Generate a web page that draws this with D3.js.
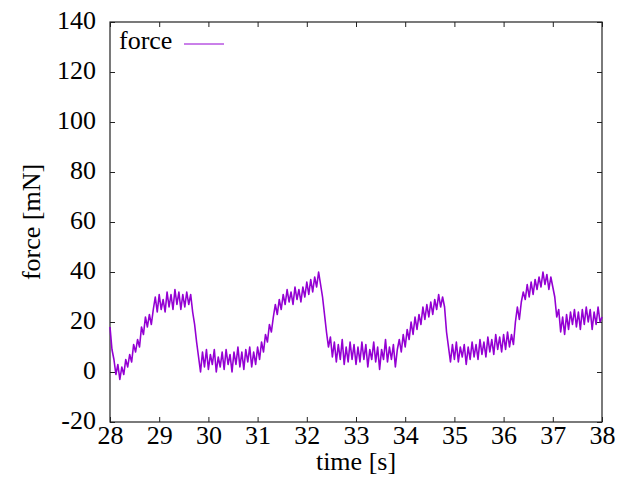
<!DOCTYPE html>
<html>
<head>
<meta charset="utf-8">
<script src="https://cdn.jsdelivr.net/npm/d3@7"></script>
<style>
  body { margin: 0; background: #fff; }
  text { font-family: "Liberation Serif", "Times New Roman", serif; fill: #000; }
</style>
</head>
<body>
<div id="chart"></div>
<script>
var sampleStart = 28,
    sampleStep = 0.04;

var forceValues = [
    // 28 s
    18, 9, 5, -1, 3, -3, 2, -1, 5, 2, 7, 4, 11, 8, 13, 10, 18, 15, 22, 18, 23, 19, 25, 30, 24,
    // 29 s
    31, 25, 29, 24, 32, 26, 31, 25, 33, 27, 32, 25, 31, 26, 32, 27, 31, 24, 19, 12, 6, 0, 8, 2, 9,
    // 30 s
    1, 7, 3, 9, 0, 6, 2, 8, 1, 9, 3, 7, 0, 8, 3, 10, 2, 8, 1, 9, 4, 10, 2, 8, 3,
    // 31 s
    10, 5, 12, 8, 15, 12, 19, 16, 22, 27, 23, 29, 25, 31, 27, 33, 28, 32, 27, 34, 29, 33, 28, 34, 30,
    // 32 s
    36, 31, 37, 32, 38, 34, 40, 35, 30, 23, 16, 10, 14, 6, 12, 4, 11, 5, 13, 3, 10, 4, 12, 5, 11,
    // 33 s
    3, 10, 4, 12, 5, 11, 2, 9, 5, 12, 4, 10, 1, 9, 5, 13, 4, 10, 5, 11, 2, 9, 13, 8, 15,
    // 34 s
    10, 17, 13, 20, 15, 22, 17, 23, 19, 26, 21, 27, 22, 28, 23, 29, 25, 31, 26, 30, 26, 16, 10, 4, 11,
    // 35 s
    5, 12, 4, 10, 6, 11, 3, 10, 5, 12, 6, 11, 5, 13, 7, 12, 6, 14, 8, 13, 7, 15, 9, 14, 8,
    // 36 s
    15, 9, 16, 10, 15, 11, 20, 26, 21, 28, 32, 29, 35, 30, 36, 31, 37, 33, 38, 34, 40, 35, 39, 33, 38,
    // 37 s
    34, 30, 22, 25, 16, 22, 15, 23, 17, 24, 19, 25, 18, 24, 17, 25, 19, 26, 20, 25, 17, 24, 19, 26, 20,
    // 38 s
    22
];

var xTicks = [28, 29, 30, 31, 32, 33, 34, 35, 36, 37, 38];
var yTicks = [-20, 0, 20, 40, 60, 80, 100, 120, 140];
var seriesName = "force";

var width = 619,
    height = 481,
    margin = {top: 22, right: 17, bottom: 59, left: 110},
    plotW = width - margin.left - margin.right,
    plotH = height - margin.top - margin.bottom;

var data = forceValues.map(function (v, i) {
    return {t: sampleStart + i * sampleStep, f: v};
});

var x = d3.scaleLinear().domain([28, 38]).range([0, plotW]);
var y = d3.scaleLinear().domain([-20, 140]).range([plotH, 0]);

// plain hyphen for negatives, like gnuplot
var fmt = function (d) { return String(d); };

var svg = d3.select("#chart").append("svg")
    .attr("width", width)
    .attr("height", height);

var g = svg.append("g")
    .attr("transform", "translate(" + margin.left + "," + margin.top + ")");

// ticks point inward on all four sides
var axB = g.append("g").attr("transform", "translate(0," + plotH + ")")
    .call(d3.axisBottom(x).tickValues(xTicks).tickSize(-5).tickFormat(fmt));
var axT = g.append("g")
    .call(d3.axisTop(x).tickValues(xTicks).tickSize(-5).tickFormat(""));
var axL = g.append("g")
    .call(d3.axisLeft(y).tickValues(yTicks).tickSize(-5).tickFormat(fmt));
var axR = g.append("g").attr("transform", "translate(" + plotW + ",0)")
    .call(d3.axisRight(y).tickValues(yTicks).tickSize(-5).tickFormat(""));

[axB, axT, axL, axR].forEach(function (a) {
    a.select(".domain").remove();
    a.selectAll("line").attr("stroke", "#222").attr("stroke-width", 1);
    a.selectAll("text").style("font-size", "26px").attr("fill", "#000");
});

axB.selectAll("text").attr("y", 22).attr("dy", 0);
axL.selectAll("text").attr("x", -14).attr("dy", 6);

// frame
g.append("rect")
    .attr("x", 0).attr("y", 0)
    .attr("width", plotW).attr("height", plotH)
    .attr("fill", "none")
    .attr("stroke", "#222")
    .attr("stroke-width", 1.2);

var line = d3.line()
    .x(function (d) { return x(d.t); })
    .y(function (d) { return y(d.f); });

g.append("path")
    .datum(data)
    .attr("fill", "none")
    .attr("stroke", "#9400d3")
    .attr("stroke-width", 1.6)
    .attr("stroke-linejoin", "round")
    .attr("d", line);

// legend
g.append("text")
    .attr("x", 9).attr("y", 27)
    .style("font-size", "26px")
    .text(seriesName);
g.append("line")
    .attr("x1", 74).attr("x2", 114)
    .attr("y1", 22).attr("y2", 22)
    .attr("stroke", "#9400d3")
    .attr("stroke-width", 1);

// axis titles
svg.append("text")
    .attr("x", margin.left + plotW / 2)
    .attr("y", 470)
    .attr("text-anchor", "middle")
    .style("font-size", "26px")
    .text("time [s]");

svg.append("text")
    .attr("transform", "translate(40," + (margin.top + plotH / 2) + ") rotate(-90)")
    .attr("text-anchor", "middle")
    .style("font-size", "26px")
    .text("force [mN]");
</script>
</body>
</html>
